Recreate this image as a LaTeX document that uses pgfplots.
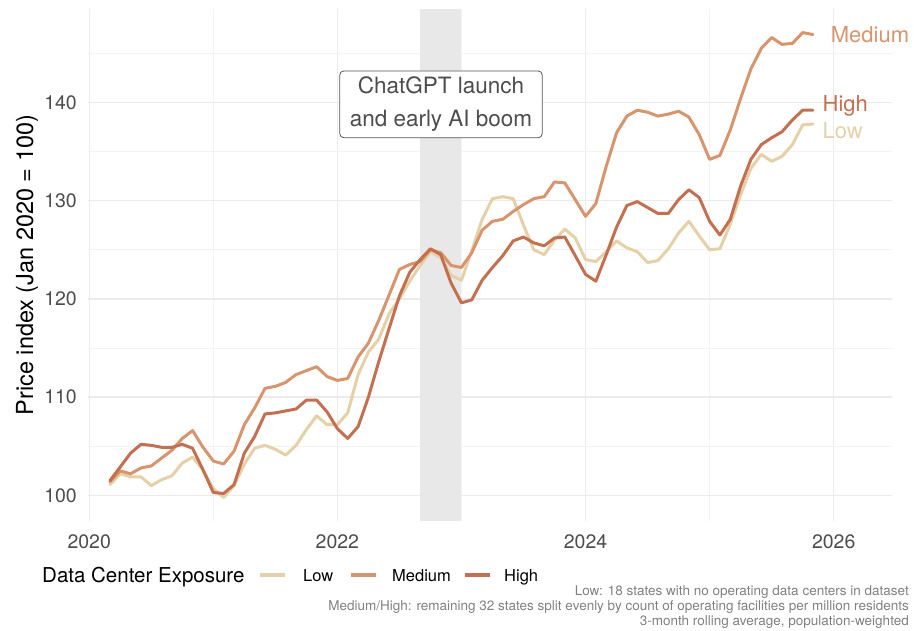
\documentclass[border=0pt]{standalone}
\usepackage{fontspec}
\setmainfont{TeX Gyre Heros}
\usepackage{pgfplots}
\usepackage{pgfplotstable}
\pgfplotsset{compat=1.18}
\definecolor{lowc}{HTML}{E6D0A8}
\definecolor{medc}{HTML}{D8946C}
\definecolor{highc}{HTML}{C47050}
\definecolor{gridmaj}{HTML}{EBEBEB}
\definecolor{gridmin}{HTML}{F3F3F3}
\definecolor{shadec}{HTML}{E8E8E8}
\definecolor{tickc}{HTML}{4D4D4D}
\definecolor{capc}{HTML}{808080}
\definecolor{boxc}{HTML}{555555}

\pgfplotstableread{
x low med high
2020.167 101.1 101.4 101.5
2020.250 102.2 102.5 102.9
2020.333 101.9 102.2 104.3
2020.417 101.9 102.8 105.2
2020.500 101.0 103.0 105.1
2020.583 101.6 103.8 104.9
2020.667 102.0 104.6 104.9
2020.750 103.3 105.8 105.2
2020.833 103.9 106.6 104.8
2020.917 102.6 104.9 102.6
2021.000 100.7 103.5 100.3
2021.083 99.8 103.2 100.2
2021.167 101.0 104.5 101.1
2021.250 103.2 107.2 104.3
2021.333 104.8 108.9 106.0
2021.417 105.1 110.9 108.3
2021.500 104.7 111.1 108.4
2021.583 104.1 111.5 108.6
2021.667 105.1 112.3 108.8
2021.750 106.7 112.7 109.7
2021.833 108.1 113.1 109.7
2021.917 107.2 112.1 108.5
2022.000 107.2 111.7 106.8
2022.083 108.4 111.9 105.8
2022.167 112.3 114.1 107.0
2022.250 114.6 115.5 110.0
2022.333 115.9 117.8 113.6
2022.417 118.5 120.4 117.0
2022.500 120.0 123.0 120.3
2022.583 121.8 123.5 122.7
2022.667 123.4 123.8 124.0
2022.750 124.8 125.0 125.1
2022.833 124.2 124.7 124.5
2022.917 122.4 123.4 121.6
2023.000 121.9 123.2 119.6
2023.083 124.9 124.7 119.9
2023.167 128.1 127.0 121.9
2023.250 130.2 127.9 123.2
2023.333 130.4 128.1 124.4
2023.417 130.2 128.9 125.9
2023.500 127.5 129.6 126.3
2023.583 125.0 130.2 125.7
2023.667 124.5 130.4 125.4
2023.750 126.0 131.9 126.2
2023.833 127.1 131.8 126.3
2023.917 126.2 130.1 124.4
2024.000 124.0 128.4 122.5
2024.083 123.8 129.7 121.8
2024.167 124.8 133.5 124.5
2024.250 125.9 136.9 127.3
2024.333 125.2 138.6 129.5
2024.417 124.8 139.2 129.9
2024.500 123.7 139.0 129.3
2024.583 123.9 138.6 128.7
2024.667 125.1 138.8 128.7
2024.750 126.7 139.1 130.1
2024.833 127.9 138.5 131.1
2024.917 126.4 136.7 130.3
2025.000 125.0 134.2 127.9
2025.083 125.1 134.6 126.5
2025.167 127.6 137.2 128.1
2025.250 130.6 140.4 131.5
2025.333 133.3 143.4 134.2
2025.417 134.7 145.5 135.7
2025.500 134.0 146.6 136.4
2025.583 134.5 145.9 137.0
2025.667 135.7 146.0 138.2
2025.750 137.7 147.1 139.2
2025.833 137.8 146.9 139.2
}\prices

\begin{document}
\begin{tikzpicture}
\path[use as bounding box] (-88pt,-109pt) rectangle (826pt,521pt);
\begin{axis}[
  scale only axis, width=804pt, height=512pt,
  xmin=2019.99, xmax=2026.47, ymin=97.4, ymax=149.5,
  axis line style={draw=none}, major tick length=0pt, minor tick length=0pt,
  xtick={2020,2022,2024,2026}, xticklabels={2020,2022,2024,2026},
  minor xtick={2021,2023,2025},
  ytick={100,110,120,130,140}, yticklabels={100,110,120,130,140},
  minor ytick={105,115,125,135,145},
  grid=both,
  major grid style={color=gridmaj, line width=1.4pt},
  minor grid style={color=gridmin, line width=0.8pt},
  /pgf/number format/assume math mode=true,
  xticklabel style={font=\fontsize{19.5}{20}\selectfont, text=tickc, anchor=north, inner sep=0pt, yshift=-13pt},
  yticklabel style={font=\fontsize{19.5}{20}\selectfont, text=tickc, anchor=east, inner sep=0pt, xshift=-11pt},
  ylabel={Price index (Jan 2020 = 100)},
  every axis y label/.style={at={(axis description cs:-0.0759,0.5)}, rotate=90, anchor=center, font=\fontsize{23.5}{25}\selectfont},
  clip=false,
]
\addplot[draw=none, fill=shadec, forget plot] coordinates {(2022.667,97.4) (2022.667,149.5) (2023.0,149.5) (2023.0,97.4)} -- cycle;
\addplot[lowc, line width=3pt, line join=round, line cap=round] table[x=x, y=low] {\prices};
\addplot[medc, line width=3pt, line join=round, line cap=round] table[x=x, y=med] {\prices};
\addplot[highc, line width=3pt, line join=round, line cap=round] table[x=x, y=high] {\prices};
\node[anchor=west, inner sep=0pt, text=medc, font=\fontsize{22}{24}\selectfont] at (axis cs:2025.976,146.9) {Medium};
\node[anchor=west, inner sep=0pt, text=highc, font=\fontsize{22}{24}\selectfont] at (axis cs:2025.91,139.6) {High};
\node[anchor=west, inner sep=0pt, text=lowc, font=\fontsize{22}{24}\selectfont] at (axis cs:2025.91,137.1) {Low};
\node[draw=boxc, line width=0.8pt, rounded corners=4pt, fill=white, align=center, text=tickc,
      inner xsep=10pt, inner ysep=6pt, font=\fontsize{22.5}{33}\selectfont] at (axis cs:2022.835,139.8)
      {ChatGPT launch\\and early AI boom};
\end{axis}
% legend (outside the panel)
\node[anchor=base west, inner sep=0pt, font=\fontsize{20.5}{22}\selectfont] at (-46pt,-61pt) {Data Center Exposure};
\draw[lowc, line width=3.6pt] (172pt,-54pt) -- (197pt,-54pt);
\node[anchor=base west, inner sep=0pt, font=\fontsize{16.5}{18}\selectfont] at (215pt,-60pt) {Low};
\draw[medc, line width=3.6pt] (263pt,-54pt) -- (288pt,-54pt);
\node[anchor=base west, inner sep=0pt, font=\fontsize{16.5}{18}\selectfont] at (304pt,-60pt) {Medium};
\draw[highc, line width=3.6pt] (377pt,-54pt) -- (402pt,-54pt);
\node[anchor=base west, inner sep=0pt, font=\fontsize{16.5}{18}\selectfont] at (416pt,-60pt) {High};
% caption
\node[anchor=base east, inner sep=0pt, text=capc, font=\fontsize{13.5}{15}\selectfont] at (821pt,-74pt) {Low: 18 states with no operating data centers in dataset};
\node[anchor=base east, inner sep=0pt, text=capc, font=\fontsize{13.5}{15}\selectfont] at (821pt,-89pt) {Medium/High: remaining 32 states split evenly by count of operating facilities per million residents};
\node[anchor=base east, inner sep=0pt, text=capc, font=\fontsize{13.5}{15}\selectfont] at (821pt,-104pt) {3-month rolling average, population-weighted};
\end{tikzpicture}
\end{document}
